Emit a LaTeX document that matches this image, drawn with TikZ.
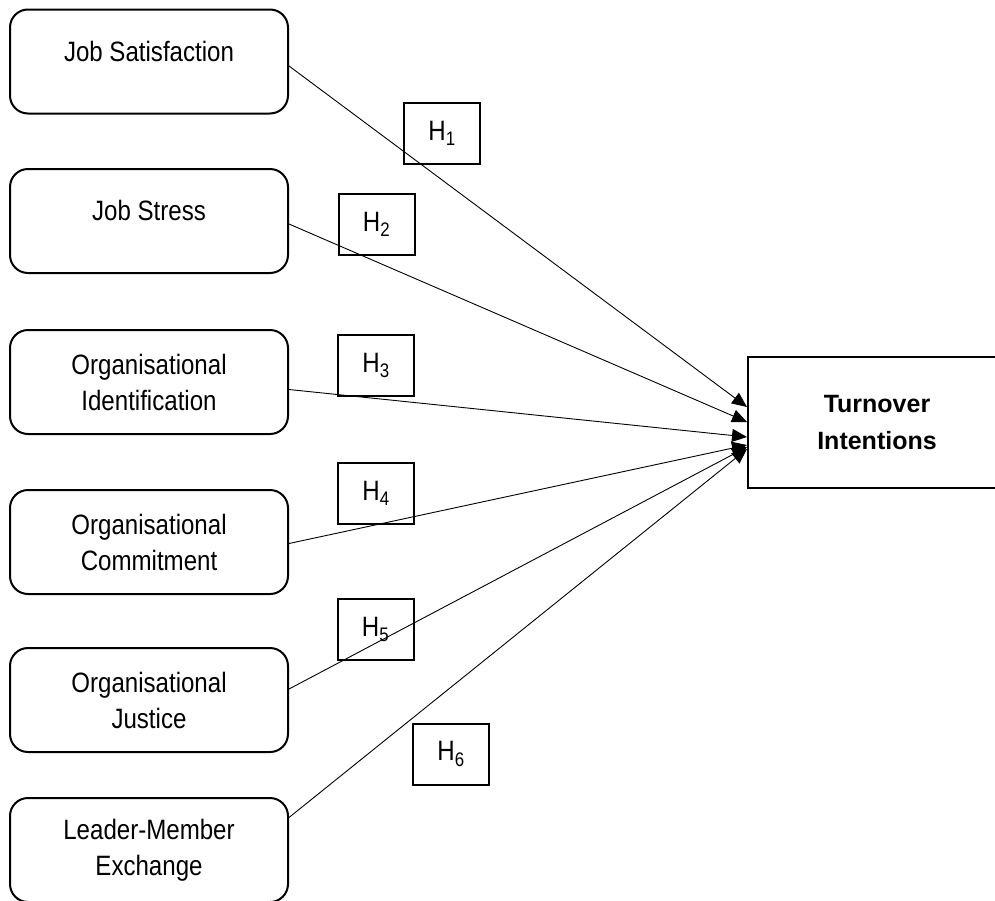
\documentclass[tikz,border=0pt]{standalone}
\usepackage{fontspec}
\setmainfont[FakeStretch=0.86]{Liberation Sans}
\newfontfamily\headfont{Liberation Sans}
\usepackage{tikz}
\usetikzlibrary{arrows.meta}

\tikzset{
  factor/.style={draw=black,line width=2pt,rounded corners=18pt,minimum width=278pt,minimum height=104pt,align=center,font=\fontsize{28}{36}\selectfont},
  oneline/.style={text height=20pt,text depth=21pt},
  hyp/.style={draw=black,line width=2pt,minimum width=76pt,minimum height=61pt,font=\fontsize{28}{30}\selectfont},
  path/.style={line width=0.9pt,-{Triangle[length=15pt,width=13pt]}}
}

\begin{document}
\begin{tikzpicture}[x=1pt,y=1pt]
            \useasboundingbox (0,0) rectangle (995,-900);

            % Place the factor nodes
            \node[factor,oneline] (js) at (149,-61.5) {Job Satisfaction};
            \node[factor,oneline] (jst) at (149,-221) {Job Stress};
            \node[factor] (oi) at (149,-382) {Organisational\\Identification};
            \node[factor] (oc) at (149,-542) {Organisational\\Commitment};
            \node[factor] (oj) at (149,-700) {Organisational\\Justice};
            \node[factor] (lmx) at (149,-850) {Leader-Member\\Exchange};

            % Place the outcome node
            \node[draw=black,line width=2pt,minimum width=258pt,minimum height=131pt,align=center,
                  font=\headfont\fontsize{25}{37}\bfseries\selectfont] (ti) at (877,-422.5) {Turnover\\Intentions};

            % The hypothesis boxes
            \node[hyp] (h1) at (442,-133) {H\textsubscript{1}};
            \node[hyp] (h2) at (376.5,-224) {H\textsubscript{2}};
            \node[hyp] (h3) at (376,-365.5) {H\textsubscript{3}};
            \node[hyp] (h4) at (376,-493.5) {H\textsubscript{4}};
            \node[hyp] (h5) at (375.5,-629) {H\textsubscript{5}};
            \node[hyp] (h6) at (451,-754) {H\textsubscript{6}};

            % The arrows!
            \draw[path] ([yshift=-4.5pt]js.east) -- ([yshift=15.5pt]ti.west);
            \draw[path] ([yshift=-3pt]jst.east) -- ([yshift=0.5pt]ti.west);
            \draw[path] ([yshift=-7.5pt]oi.east) -- ([yshift=-14.5pt]ti.west);
            \draw[path] ([yshift=-1.5pt]oc.east) -- ([yshift=-22.5pt]ti.west);
            \draw[path] ([yshift=11pt]oj.east) -- ([yshift=-24.5pt]ti.west);
            \draw[path] ([yshift=32.5pt]lmx.east) -- ([yshift=-26.5pt]ti.west);
        \end{tikzpicture}
\end{document}
